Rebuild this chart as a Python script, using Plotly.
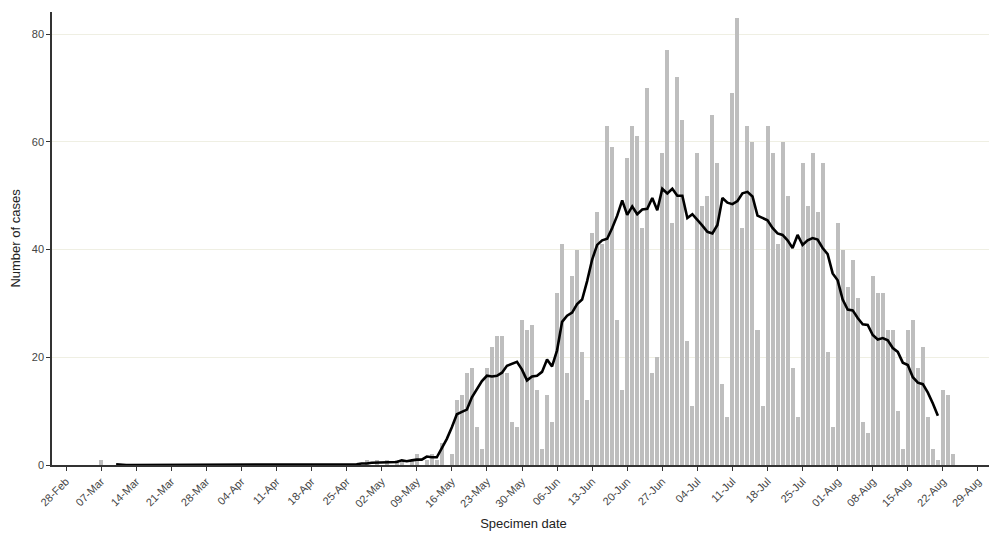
import pandas as pd
import plotly.graph_objects as go

# Daily case counts by specimen date, starting 07-Mar-2022 (one value per day)
case_start = "2022-03-07"
cases = [
    1, 0, 0, 0, 0, 0, 0,
    0, 0, 0, 0, 0, 0, 0,
    0, 0, 0, 0, 0, 0, 0,
    0, 0, 0, 0, 0, 0, 0,
    0, 0, 0, 0, 0, 0, 0,
    0, 0, 0, 0, 0, 0, 0,
    0, 0, 0, 0, 0, 0, 0,
    0, 0, 0, 0, 1, 0, 1,
    0, 1, 0, 1, 1, 0, 1,
    2, 0, 1, 2, 1, 4, 0,
    2, 12, 13, 17, 18, 7, 3,
    18, 22, 24, 24, 17, 8, 7,
    27, 25, 26, 14, 3, 13, 8,
    32, 41, 17, 35, 40, 21, 12,
    43, 47, 41, 63, 59, 27, 14,
    57, 63, 61, 44, 70, 17, 20,
    58, 77, 45, 72, 64, 23, 11,
    58, 48, 50, 65, 56, 15, 9,
    69, 83, 44, 63, 60, 25, 11,
    63, 58, 41, 60, 50, 18, 9,
    56, 48, 58, 47, 56, 21, 7,
    45, 40, 33, 38, 31, 8, 6,
    35, 32, 32, 25, 25, 10, 3,
    25, 27, 18, 22, 9, 3, 1,
    14, 13, 2,
]

# 7-day average line, starting 10-Mar-2022 (one value per day)
avg_start = "2022-03-10"
avg_7day = (
    [0.14] + [0.0] * 46 +
    [0.14, 0.14, 0.29, 0.29, 0.43, 0.43, 0.57, 0.57, 0.57, 0.57,
     0.86, 0.71, 0.86, 1.0, 1.0, 1.57, 1.43, 1.43, 3.14, 4.86,
     7.0, 9.43, 9.86, 10.29, 12.57, 14.0, 15.57, 16.57, 16.43, 16.57,
     17.14, 18.43, 18.86, 19.14, 17.71, 15.71, 16.43, 16.57, 17.29, 19.57,
     18.29, 21.29, 26.57, 27.71, 28.29, 29.86, 30.71, 34.14, 38.14, 40.86,
     41.71, 42.0, 44.0, 46.29, 49.14, 46.43, 48.0, 46.57, 47.43, 47.57,
     49.57, 47.29, 51.29, 50.43, 51.29, 50.0, 50.0, 45.86, 46.57, 45.57,
     44.43, 43.29, 43.0, 44.57, 49.57, 48.71, 48.43, 49.0, 50.43, 50.71,
     49.86, 46.29, 45.86, 45.43, 44.0, 43.0, 42.71, 41.71, 40.29, 42.71,
     40.86, 41.71, 42.14, 41.86, 40.29, 39.14, 35.57, 34.29, 30.71, 28.86,
     28.71, 27.29, 26.14, 26.0, 24.14, 23.29, 23.57, 23.14, 21.71, 21.0,
     19.0, 18.57, 16.29, 15.29, 15.0, 13.43, 11.43, 9.14]
)

y_ticks = [0, 20, 40, 60, 80]
x_title = "Specimen date"
y_title = "Number of cases"

case_dates = pd.date_range(case_start, periods=len(cases), freq="D")
avg_dates = pd.date_range(avg_start, periods=len(avg_7day), freq="D")

fig = go.Figure()
fig.add_trace(go.Bar(
    x=case_dates, y=cases,
    width=0.8 * 86400000,
    marker=dict(color="#bebebe", line=dict(width=0)),
    name="Cases",
))
fig.add_trace(go.Scatter(
    x=avg_dates, y=avg_7day, mode="lines",
    line=dict(color="black", width=2.6),
    name="7-day average",
))

font_family = "Liberation Sans, Arial, sans-serif"
fig.update_layout(
    width=989, height=526,
    margin=dict(l=44, r=2, t=4, b=69),
    paper_bgcolor="white", plot_bgcolor="white",
    showlegend=False,
    bargap=0,
    font=dict(family=font_family, size=11, color="#4d4d4d"),
    xaxis=dict(
        type="date",
        range=["2022-02-25 04:48", "2022-09-01 09:36"],
        tick0="2022-02-28", dtick=7 * 86400000,
        tickformat="%d-%b", tickangle=-45,
        ticks="outside", ticklen=4, tickcolor="#333333", tickwidth=1,
        showline=True, linecolor="#333333", linewidth=1.5,
        showgrid=False, zeroline=False, automargin=False,
        tickfont=dict(size=11, color="#444444"),
        title=dict(text=x_title, font=dict(size=13, color="#222222"), standoff=10),
    ),
    yaxis=dict(
        range=[0, 84.1],
        tickvals=y_ticks,
        ticks="outside", ticklen=4, tickcolor="#333333", tickwidth=1,
        showline=True, linecolor="#333333", linewidth=1.5,
        showgrid=True, gridcolor="#efefe3", gridwidth=1,
        zeroline=False, automargin=False,
        tickfont=dict(size=11, color="#444444"),
        title=dict(text=y_title, font=dict(size=13, color="#222222"), standoff=8),
    ),
)

fig.write_html("out.html")
